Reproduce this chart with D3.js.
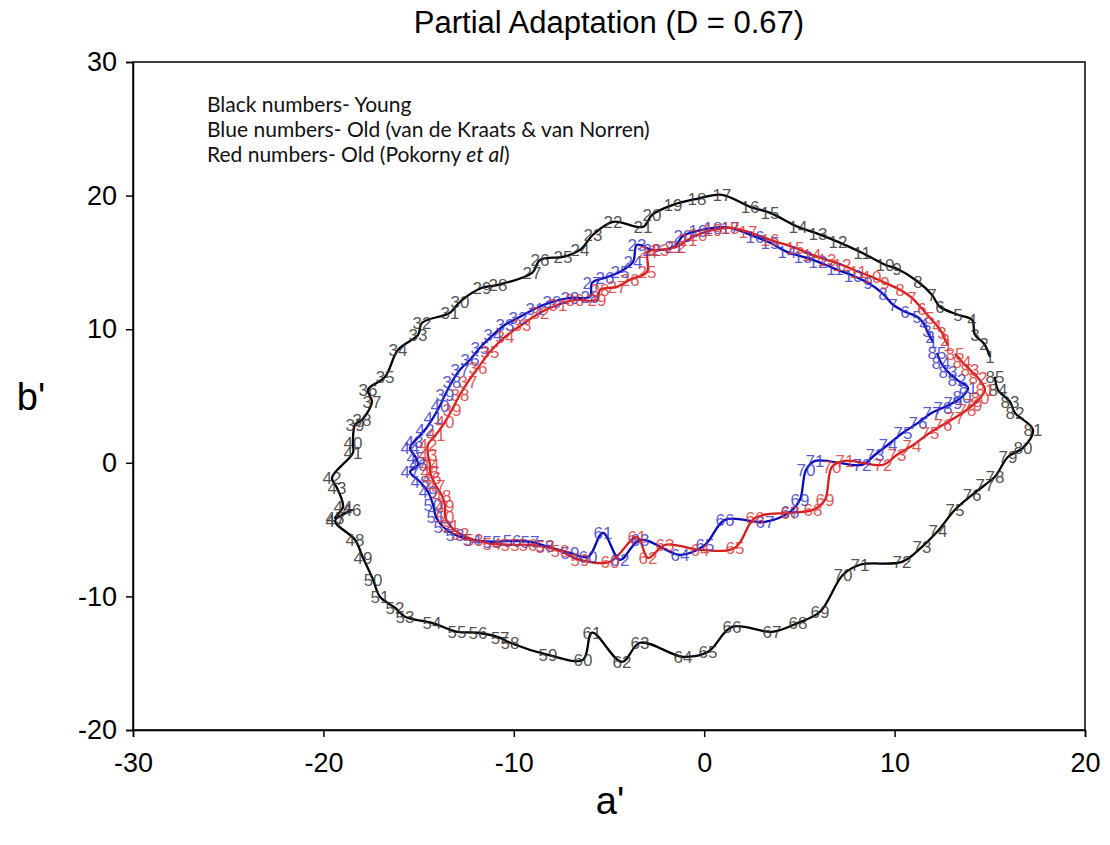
<!DOCTYPE html>
<html><head><meta charset="utf-8">
<script src="https://cdn.jsdelivr.net/npm/d3@7"></script>
<style>body{margin:0;background:#fff}</style>
</head><body><svg id="c" width="1110" height="845"></svg>
<script>
const titleText = "Partial Adaptation (D = 0.67)";
const xTicks = [-30, -20, -10, 0, 10, 20];
const yTicks = [-20, -10, 0, 10, 20, 30];

// Young (black)
const youngA = [15.01,14.70,14.22,14.07,13.33,12.38,11.96,11.23,10.13,9.50,8.29,7.03,5.98,4.93,3.46,2.41,0.93,-0.38,-1.64,-2.74,-3.21,-4.79,-5.84,-6.52,-7.42,-8.62,-9.04,-10.83,-11.67,-12.83,-13.35,-14.82,-15.03,-16.08,-16.76,-17.66,-17.45,-17.97,-18.34,-18.45,-18.45,-19.55,-19.29,-18.97,-19.39,-18.50,-19.39,-18.34,-17.92,-17.39,-17.03,-16.24,-15.71,-14.30,-12.98,-11.88,-10.72,-10.20,-8.20,-6.37,-5.89,-4.32,-3.37,-1.11,0.20,1.46,3.56,4.93,6.08,7.29,8.18,10.39,11.44,12.28,13.17,14.07,14.75,15.27,15.96,16.74,17.27,16.32,16.06,15.43,15.27];
const youngB = [7.93,8.91,9.58,10.70,11.08,11.68,12.57,13.55,14.52,14.82,15.72,16.54,17.14,17.66,18.71,19.16,20.06,19.76,19.31,18.56,17.66,18.04,17.07,15.94,15.42,15.19,14.22,13.32,13.10,12.05,11.23,10.48,9.58,8.46,6.44,5.46,4.57,3.22,2.84,1.50,0.75,-1.12,-1.87,-3.29,-4.12,-3.52,-4.34,-5.76,-7.11,-8.76,-10.03,-10.85,-11.53,-11.98,-12.65,-12.72,-13.10,-13.47,-14.37,-14.75,-12.72,-14.90,-13.47,-14.52,-14.15,-12.28,-12.65,-11.98,-11.15,-8.38,-7.63,-7.41,-6.29,-5.09,-3.52,-2.40,-1.65,-1.05,0.45,1.12,2.47,3.74,4.57,5.46,6.44];

// Old, van de Kraats & van Norren (blue)
const kraatsA = [12.02,11.86,11.70,11.54,11.18,10.55,9.92,9.39,8.60,7.82,6.87,5.98,5.19,4.35,3.46,2.67,1.36,0.46,-0.33,-1.11,-1.59,-2.74,-3.53,-3.74,-4.42,-5.21,-5.89,-6.00,-7.05,-7.99,-8.89,-9.78,-10.46,-11.09,-11.78,-12.30,-12.83,-13.25,-13.61,-13.88,-14.24,-14.66,-15.24,-15.45,-15.14,-15.03,-15.45,-14.93,-14.51,-14.24,-14.09,-13.72,-13.09,-12.20,-11.15,-10.09,-9.15,-8.36,-7.05,-6.10,-5.32,-4.42,-3.37,-1.27,0.04,1.09,3.19,4.51,5.03,5.35,5.82,8.29,8.97,9.65,10.44,11.23,11.96,12.54,13.07,13.54,13.86,13.28,12.80,12.44,12.23];
const kraatsB = [9.06,9.43,9.88,10.40,10.93,11.30,11.83,12.65,13.47,14.00,14.52,15.04,15.42,15.79,16.47,16.92,17.59,17.59,17.37,16.99,16.17,15.94,16.32,15.04,14.30,13.85,13.47,12.43,12.35,12.05,11.53,10.85,10.33,9.58,8.61,7.71,6.96,6.06,5.09,4.27,3.37,2.47,1.57,1.12,0.37,-0.15,-0.67,-1.42,-2.17,-3.14,-4.04,-4.79,-5.39,-5.76,-5.91,-5.84,-5.91,-6.21,-6.74,-7.04,-5.24,-7.26,-5.76,-6.89,-6.14,-4.27,-4.42,-3.67,-2.77,-0.52,0.15,-0.15,0.60,1.35,2.25,2.99,3.74,4.12,4.49,4.94,5.61,6.21,6.81,7.49,8.23];

// Old, Pokorny et al (red)
const pokornyA = [12.80,12.65,12.49,12.23,11.86,11.44,10.91,10.28,9.50,8.81,8.08,7.24,6.45,5.66,4.77,3.46,2.30,1.36,0.46,-0.33,-0.85,-1.43,-2.32,-2.95,-3.00,-3.90,-4.58,-5.47,-5.63,-6.79,-7.68,-8.62,-9.57,-10.46,-11.25,-11.88,-12.41,-12.83,-13.25,-13.61,-14.09,-14.51,-14.51,-14.40,-14.40,-14.30,-14.09,-13.77,-13.61,-13.61,-13.35,-12.83,-12.09,-11.15,-10.20,-9.25,-8.36,-7.57,-6.52,-4.95,-3.53,-2.95,-2.06,-0.22,1.62,2.67,4.51,5.71,6.34,6.71,7.39,9.39,10.13,10.91,11.86,12.54,13.17,13.80,14.12,14.49,14.75,14.38,13.96,13.54,13.17];
const pokornyB = [8.83,9.21,9.73,10.25,10.85,11.53,12.35,12.95,13.47,13.92,14.30,14.82,15.19,15.57,16.09,16.69,17.29,17.59,17.44,17.07,16.69,16.17,15.94,15.79,14.30,13.70,13.17,12.95,12.20,12.20,11.83,11.23,10.33,9.43,8.31,7.11,6.06,5.09,3.97,3.07,2.10,1.35,0.60,-0.15,-0.67,-1.12,-1.72,-2.47,-3.22,-4.04,-4.72,-5.31,-5.76,-6.06,-6.14,-6.14,-6.29,-6.59,-7.26,-7.41,-5.54,-7.11,-6.14,-6.51,-6.36,-4.12,-3.74,-3.52,-2.77,-0.30,0.15,-0.15,0.60,1.27,2.25,2.84,3.37,3.97,4.34,4.87,5.46,6.36,6.96,7.56,8.16];

const legendLines = ["Black numbers- Young", "Blue numbers- Old (van de Kraats & van Norren)", "Red numbers- Old (Pokorny "];

const svg = d3.select("#c");
const x = d3.scaleLinear().domain([-30, 20]).range([133, 1085]);
const y = d3.scaleLinear().domain([-20, 30]).range([730, 62]);
const FONT = "Liberation Sans, Arial, sans-serif";

// frame
svg.append("rect").attr("x", x(-30)).attr("y", y(30)).attr("width", x(20) - x(-30)).attr("height", y(-20) - y(30))
  .attr("fill", "none").attr("stroke", "#000").attr("stroke-width", 1.5);

const xAxis = svg.append("g").attr("transform", `translate(0,${y(-20)})`)
  .call(d3.axisBottom(x).tickValues(xTicks).tickSize(7).tickPadding(16).tickFormat(d3.format("d")));
const yAxis = svg.append("g").attr("transform", `translate(${x(-30)},0)`)
  .call(d3.axisLeft(y).tickValues(yTicks).tickSize(7).tickPadding(9).tickFormat(d3.format("d")));
[xAxis, yAxis].forEach(g => {
  g.select(".domain").attr("stroke", "#000").attr("stroke-width", 1.5);
  g.selectAll(".tick line").attr("stroke", "#000").attr("stroke-width", 1.5);
  g.selectAll(".tick text").attr("font-family", FONT).attr("font-size", 27).attr("fill", "#000");
});
xAxis.selectAll(".tick text").text(d => d < 0 ? "-" + Math.abs(d) : d);
yAxis.selectAll(".tick text").text(d => d < 0 ? "-" + Math.abs(d) : d);

svg.append("text").attr("x", 609).attr("y", 33).attr("text-anchor", "middle")
  .attr("font-family", FONT).attr("font-size", 31).text(titleText);
svg.append("text").attr("x", 610).attr("y", 814).attr("text-anchor", "middle")
  .attr("font-family", FONT).attr("font-size", 38).text("a'");
svg.append("text").attr("x", 31).attr("y", 410).attr("text-anchor", "middle")
  .attr("font-family", FONT).attr("font-size", 38).text("b'");

// legend text
const lg = svg.append("g").attr("font-family", "Lato, 'Open Sans', sans-serif").attr("font-size", 21).attr("fill", "#111");
legendLines.forEach((t, i) => {
  const tx = lg.append("text").attr("x", 207).attr("y", 112 + i * 25).text(t);
  if (i === 2) {
    tx.append("tspan").attr("font-style", "italic").text("et al");
    tx.append("tspan").text(")");
  }
});

const series = [
  { a: youngA, b: youngB, line: "#000000", label: "#333333" },
  { a: kraatsA, b: kraatsB, line: "#0808b8", label: "#3a3ac8" },
  { a: pokornyA, b: pokornyB, line: "#d81c1c", label: "#d83a3a" }
];
const lineGen = d3.line().x(d => x(d[0])).y(d => y(d[1])).curve(d3.curveCatmullRom.alpha(0.5));
series.forEach(s => {
  const pts = s.a.map((v, i) => [v, s.b[i]]);
  svg.append("path").attr("d", lineGen(pts)).attr("fill", "none").attr("stroke", s.line).attr("stroke-width", 2.3);
});
series.forEach(s => {
  const pts = s.a.map((v, i) => [v, s.b[i], i + 1]);
  svg.append("g").selectAll("text").data(pts).join("text")
    .attr("x", d => x(d[0])).attr("y", d => y(d[1]) + 6)
    .attr("text-anchor", "middle").attr("font-family", FONT)
    .attr("font-size", 17).attr("fill", s.label).attr("fill-opacity", 0.85)
    .text(d => d[2]);
});
</script></body></html>
